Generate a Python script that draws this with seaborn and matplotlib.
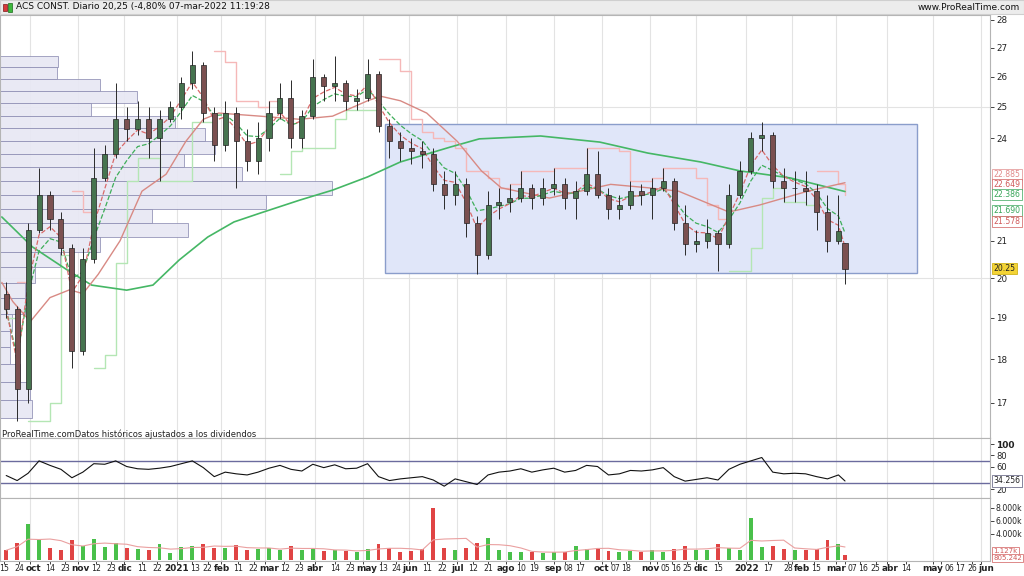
import numpy as np
import pandas as pd
import matplotlib
matplotlib.use("Agg")
import matplotlib.pyplot as plt
import seaborn as sns
from matplotlib.patches import Rectangle
from matplotlib.ticker import FixedLocator, FixedFormatter, NullLocator

sns.set_theme(style="white")
plt.rcParams['font.family'] = ['DejaVu Sans']

# ------------------------------------------------------------------ data
week_start = "2020-09-14"   # weekly candles, Monday of each week
opens = [19.6, 19.2, 17.3, 21.3, 22.3, 21.6, 20.8, 18.2, 20.5, 22.8,
         23.5, 24.6, 24.3, 24.6, 24.0, 24.6, 25.0, 25.8, 26.4, 24.8,
         23.8, 24.8, 23.9, 23.3, 24.0, 24.8, 25.3, 24.0, 24.7, 26.0,
         25.7, 25.8, 25.2, 25.3, 26.1, 24.4, 23.9, 23.7, 23.6, 23.5,
         22.6, 22.3, 22.6, 21.5, 20.6, 22.0, 22.1, 22.2, 22.5, 22.2,
         22.5, 22.6, 22.2, 22.4, 22.9, 22.3, 21.9, 22.0, 22.4, 22.3,
         22.5, 22.7, 21.5, 20.9, 21.0, 21.2, 20.9, 22.3, 23.0, 24.0,
         24.1, 22.7, 22.5, 22.5, 22.4, 21.8, 21.0, 20.95]
highs = [19.9, 19.3, 21.5, 23.1, 22.4, 21.8, 20.9, 20.8, 23.7, 23.8,
         25.8, 25.0, 25.2, 25.0, 24.9, 25.2, 26.0, 26.9, 26.5, 25.0,
         25.2, 25.0, 24.3, 24.5, 25.2, 25.8, 25.9, 24.9, 26.6, 26.1,
         26.7, 25.9, 25.6, 26.6, 26.2, 24.6, 24.2, 24.0, 23.9, 23.7,
         23.0, 23.0, 22.8, 21.7, 22.4, 22.5, 22.6, 23.0, 22.6, 22.8,
         23.1, 22.8, 22.7, 23.7, 23.6, 22.5, 22.3, 22.7, 22.6, 22.8,
         23.1, 22.8, 22.0, 21.3, 21.6, 21.3, 22.6, 23.3, 24.2, 24.5,
         24.2, 23.1, 23.0, 23.0, 22.6, 22.3, 22.3, 20.95]
lows = [19.0, 16.6, 17.0, 21.2, 21.3, 20.6, 17.8, 18.1, 20.4, 22.7,
        23.4, 23.9, 24.1, 23.4, 22.7, 24.5, 24.6, 25.6, 24.5, 23.3,
        23.6, 22.5, 23.0, 22.9, 23.6, 24.6, 23.7, 23.7, 24.6, 25.2,
        25.2, 24.9, 24.9, 25.2, 24.2, 23.4, 23.3, 23.2, 23.1, 22.4,
        21.9, 22.0, 21.1, 20.1, 20.5, 21.6, 21.8, 22.1, 21.9, 22.0,
        22.3, 21.9, 21.6, 22.3, 22.2, 21.6, 21.6, 21.9, 22.0, 21.6,
        22.4, 21.3, 20.6, 20.7, 20.8, 20.2, 20.8, 22.2, 22.9, 23.6,
        22.5, 22.1, 22.1, 22.0, 21.3, 20.7, 20.9, 19.85]
closes = [19.2, 17.3, 21.3, 22.3, 21.6, 20.8, 18.2, 20.5, 22.8, 23.5,
          24.6, 24.3, 24.6, 24.0, 24.6, 25.0, 25.8, 26.4, 24.8, 23.8,
          24.8, 23.9, 23.3, 24.0, 24.8, 25.3, 24.0, 24.7, 26.0, 25.7,
          25.8, 25.2, 25.3, 26.1, 24.4, 23.9, 23.7, 23.6, 23.5, 22.6,
          22.3, 22.6, 21.5, 20.6, 22.0, 22.1, 22.2, 22.5, 22.2, 22.5,
          22.6, 22.2, 22.4, 22.9, 22.3, 21.9, 22.0, 22.4, 22.3, 22.5,
          22.7, 21.5, 20.9, 21.0, 21.2, 20.9, 22.3, 23.0, 24.0, 24.1,
          22.7, 22.5, 22.5, 22.4, 21.8, 21.0, 21.27, 20.25]
volumes_k = [1500, 2600, 5500, 3000, 1800, 1600, 3000, 2200, 3200, 2000,
             2600, 1900, 1700, 1500, 2400, 1100, 2000, 2200, 2500, 1900,
             1800, 2300, 1600, 1700, 1800, 1600, 2200, 1500, 1800, 1400,
             1500, 1400, 1300, 1700, 2400, 1800, 1300, 1400, 1700, 8000,
             1800, 1600, 1900, 2600, 3400, 1500, 1300, 1200, 1300, 1100,
             1200, 1300, 2200, 1700, 1900, 1400, 1300, 1400, 1300, 1600,
             1300, 1700, 2100, 1600, 1500, 2400, 1800, 1500, 6400, 2000,
             2100, 1700, 1600, 1500, 1700, 3000, 2500, 805]
rsi_vals = [44, 35, 48, 70, 62, 55, 40, 50, 65, 64,
            70, 60, 56, 55, 57, 60, 65, 70, 58, 42,
            50, 47, 45, 50, 57, 62, 55, 52, 64, 58,
            63, 56, 57, 65, 42, 35, 38, 40, 42, 36,
            25, 38, 33, 28, 45, 50, 52, 56, 50, 54,
            57, 50, 53, 62, 60, 45, 47, 53, 52, 54,
            58, 42, 34, 37, 40, 36, 55, 64, 70, 76,
            50, 47, 48, 47, 42, 38, 45, 34.256]

ma50_dates = ["2020-09-14", "2020-09-21", "2020-10-01", "2020-10-14", "2020-10-27",
              "2020-11-04", "2020-11-13", "2020-11-27", "2020-12-11", "2020-12-28",
              "2021-01-08", "2021-01-20", "2021-01-29", "2021-02-25", "2021-03-23",
              "2021-04-13", "2021-05-05", "2021-05-13", "2021-05-26", "2021-06-11",
              "2021-07-01", "2021-07-16", "2021-07-29", "2021-08-30", "2021-10-07",
              "2021-11-01", "2021-11-19", "2021-12-22", "2022-01-11", "2022-02-10",
              "2022-03-07"]
ma50_vals = [19.89, 19.4, 18.9, 19.5, 19.7, 19.6, 20.1, 21.0, 22.4, 22.9,
             23.9, 24.6, 24.8, 24.7, 24.6, 24.7, 25.2, 25.35, 25.2, 24.8,
             23.9, 23.0, 22.5, 22.2, 22.6, 22.5, 22.4, 21.8, 22.0, 22.4,
             22.649]
ma200_dates = ["2020-09-14", "2020-10-02", "2020-10-26", "2020-11-10", "2020-12-02",
               "2020-12-18", "2021-01-05", "2021-01-22", "2021-02-09", "2021-02-25",
               "2021-03-23", "2021-04-13", "2021-05-05", "2021-05-26", "2021-06-28",
               "2021-07-15", "2021-08-24", "2021-09-30", "2021-11-01", "2021-12-03",
               "2021-12-29", "2022-01-31", "2022-03-07"]
ma200_vals = [21.66, 20.83, 20.21, 19.82, 19.69, 19.82, 20.48, 21.10, 21.52, 21.77,
              22.14, 22.43, 22.82, 23.27, 23.73, 23.98, 24.07, 23.88, 23.54, 23.27,
              23.0, 22.79, 22.39]

# volume-at-price profile (top bin first)
profile_vols = [58, 57, 100, 137, 91, 175, 205, 215, 184, 242, 332, 266, 152,
                188, 100, 60, 35, 25, 25, 12, 10, 10, 20, 30, 32]
profile_top = 26.72
profile_step = 0.402

range_box_dates = ["2021-05-17", "2022-04-21"]
range_box_prices = [20.13, 24.45]

price_ticks = [17, 18, 19, 20, 21, 24, 25, 26, 27, 28]
side_texts = ["22.885", "22.649", "22.386", "21.690", "21.578"]
side_values = [22.885, 22.649, 22.386, 21.690, 21.578]
last_price_text = "20.25"
last_price = 20.25

tick_dates = ["2020-09-15", "2020-09-24", "2020-10-01", "2020-10-14", "2020-10-23",
              "2020-11-02", "2020-11-12", "2020-11-23", "2020-12-01", "2020-12-11",
              "2020-12-22", "2021-01-04", "2021-01-13", "2021-01-22", "2021-02-01",
              "2021-02-11", "2021-02-22", "2021-03-01", "2021-03-12", "2021-03-23",
              "2021-04-01", "2021-04-14", "2021-04-23", "2021-05-03", "2021-05-13",
              "2021-05-24", "2021-06-01", "2021-06-11", "2021-06-22", "2021-07-01",
              "2021-07-12", "2021-07-21", "2021-08-02", "2021-08-10", "2021-08-19",
              "2021-09-01", "2021-09-08", "2021-09-17", "2021-10-01", "2021-10-07",
              "2021-10-18", "2021-11-02", "2021-11-05", "2021-11-16", "2021-11-25",
              "2021-12-01", "2021-12-15", "2022-01-03", "2022-01-17", "2022-01-28",
              "2022-02-01", "2022-02-15", "2022-03-01", "2022-03-07", "2022-03-16",
              "2022-03-25", "2022-04-01", "2022-04-14", "2022-05-02", "2022-05-06",
              "2022-05-17", "2022-05-26", "2022-06-01"]
tick_texts = ["15", "24", "oct", "14", "23", "nov", "12", "23", "dic", "11",
              "22", "2021", "13", "22", "feb", "11", "22", "mar", "12", "23",
              "abr", "14", "23", "may", "13", "24", "jun", "11", "22", "jul",
              "12", "21", "ago", "10", "19", "sep", "08", "17", "oct", "07",
              "18", "nov", "05", "16", "25", "dic", "15", "2022", "17", "28",
              "feb", "15", "mar", "07", "16", "25", "abr", "14", "may", "06",
              "17", "26", "jun"]

title_text = "ACS CONST. Diario 20,25 (-4,80% 07-mar-2022 11:19:28"
site_text = "www.ProRealTime.com"
footer_text = "ProRealTime.comDatos históricos ajustados a los dividendos"

rsi_ticks = [20, 60, 80, 100]
rsi_last_text = "34.256"
vol_ticks = [4000, 6000, 8000]
vol_tick_texts = ["4.000k", "6.000k", "8.000k"]
vol_side = [(1127, "1.127k"), (805.242, "805.242")]

# ------------------------------------------------------------------ helpers
cal = pd.bdate_range("2020-09-14", "2022-07-29")


def bpos(dates):
    return cal.searchsorted(pd.to_datetime(dates)).astype(float)


o = np.array(opens); h = np.array(highs); l = np.array(lows); c = np.array(closes)
weeks = pd.date_range(week_start, periods=len(c), freq="W-MON")
last_day = bpos(["2022-03-07"])[0]
xw = np.minimum(bpos(weeks) + 2, last_day)
up = c >= o

XL, XR = -0.83, 451.2

W, H = 1024, 576
DPI = 100
fig = plt.figure(figsize=(W / DPI, H / DPI), dpi=DPI)
fig.patch.set_facecolor("white")


def rect(x0, y0, x1, y1):
    return [x0 / W, 1 - y1 / H, (x1 - x0) / W, (y1 - y0) / H]


ax_p = fig.add_axes(rect(0, 15, 990, 438))
ax_r = fig.add_axes(rect(0, 438, 990, 498))
ax_v = fig.add_axes(rect(0, 498, 990, 561))

tick_pos = bpos(tick_dates)
is_month = [(not t.isdigit()) or len(t) == 4 for t in tick_texts]
month_pos = [p for p, m in zip(tick_pos, is_month) if m]

for ax in (ax_p, ax_r, ax_v):
    ax.set_xlim(XL, XR)
    ax.set_facecolor("white")
    for sp in ax.spines.values():
        sp.set_color("#b4b4b4")
        sp.set_linewidth(0.8)
    for mp in month_pos:
        ax.axvline(mp, color="#e3e3e3", lw=0.8, zorder=0)
    ax.yaxis.tick_right()
    ax.tick_params(axis="y", right=True, left=False, labelsize=6.3, length=3,
                   pad=1.5, colors="#222222", width=0.6)

# ------------------------------------------------------------------ price panel
ax_p.set_yscale("log")
ax_p.set_ylim(16.24, 28.18)
for lvl in (20, 25):
    ax_p.axhline(lvl, color="#e3e3e3", lw=0.8, zorder=0)

bx0, bx1 = bpos(range_box_dates)
ax_p.add_patch(Rectangle((bx0, range_box_prices[0]), bx1 - bx0,
                         range_box_prices[1] - range_box_prices[0],
                         facecolor="#e0e6f9", edgecolor="#8a9dcb", lw=1.0, zorder=1))

pv = np.array(profile_vols, dtype=float)
tops = profile_top - profile_step * np.arange(len(pv))
pw = pv / pv.max() * 0.335 * (XR - XL)
ax_p.barh(tops - profile_step, pw, height=profile_step, left=XL, align="edge",
          color="#e8e8f4", edgecolor="#8e8eb4", lw=0.6, alpha=0.92, zorder=1.5)

# trailing breakout bands (step lines)
up_band = pd.Series(h).rolling(3, min_periods=1).max().values
dn_band = pd.Series(l).rolling(3, min_periods=1).min().values
state = np.ones(len(c))
s = 1
for i in range(len(c)):
    if i > 0:
        if c[i] < dn_band[i - 1]:
            s = -1
        elif c[i] > up_band[i - 1]:
            s = 1
    state[i] = s
ax_p.plot(xw, np.where(state > 0, dn_band, np.nan), drawstyle="steps-post",
          color="#b4e6b4", lw=1.0, zorder=2.5)
ax_p.plot(xw, np.where(state < 0, up_band, np.nan), drawstyle="steps-post",
          color="#f5b8b8", lw=1.0, zorder=2.5)

sns.lineplot(x=bpos(ma200_dates), y=ma200_vals, ax=ax_p, color="#45b765", lw=1.2, zorder=3)
sns.lineplot(x=bpos(ma50_dates), y=ma50_vals, ax=ax_p, color="#d88a84", lw=1.0, zorder=3)
ema_fast = pd.Series(c).ewm(span=3).mean().values
ema_slow = pd.Series(c).ewm(span=5).mean().values
sns.lineplot(x=xw, y=ema_slow, ax=ax_p, color="#3fae5a", lw=0.9, linestyle="--", zorder=3)
sns.lineplot(x=xw, y=ema_fast, ax=ax_p, color="#d86a6a", lw=0.9, linestyle="--", zorder=3)

ax_p.vlines(xw, l, h, color="#2a2a2a", lw=0.7, zorder=4)
ax_p.bar(xw, np.abs(c - o), bottom=np.minimum(o, c), width=2.3,
         color=np.where(up, "#46744f", "#7b5050"), edgecolor="#222222", lw=0.5, zorder=5)

ax_p.yaxis.set_major_locator(FixedLocator(price_ticks))
ax_p.yaxis.set_major_formatter(FixedFormatter([str(t) for t in price_ticks]))
ax_p.yaxis.set_minor_locator(NullLocator())
ax_p.tick_params(axis="x", bottom=False, labelbottom=False)
ax_p.set_xlabel(""); ax_p.set_ylabel("")


def side_label(ax, val, txt, color, dy, fc="white", ec=None, tcolor=None, size=5.6):
    ax.annotate(txt, xy=(1, val), xycoords=("axes fraction", "data"),
                xytext=(2.5, dy), textcoords="offset points", fontsize=size,
                color=tcolor or color, va="center", ha="left",
                bbox=dict(boxstyle="square,pad=0.15", fc=fc, ec=ec or color, lw=0.5),
                annotation_clip=False, zorder=10)


side_colors = ["#e08a8a", "#d05a5a", "#3aa55a", "#3aa55a", "#d05a5a"]
side_dy = [0, -1.5, -2, 4, -1]
for v, t, col, dy in zip(side_values, side_texts, side_colors, side_dy):
    side_label(ax_p, v, t, col, dy)
side_label(ax_p, last_price, last_price_text, "#222222", 0, fc="#f3d335", ec="#c8a800")

# ------------------------------------------------------------------ RSI panel
ax_r.set_ylim(4, 110.7)
ax_r.axhline(70, color="#6b6b9e", lw=1.0, zorder=2)
ax_r.axhline(30, color="#6b6b9e", lw=1.0, zorder=2)
sns.lineplot(x=xw, y=rsi_vals, ax=ax_r, color="#111111", lw=0.8, zorder=3)
ax_r.set_yticks(rsi_ticks)
ax_r.set_yticklabels([str(t) for t in rsi_ticks])
ax_r.tick_params(axis="y", labelsize=6)
for lbl in ax_r.get_yticklabels():
    if lbl.get_text() == "100":
        lbl.set_fontweight("bold")
        lbl.set_fontsize(6.5)
ax_r.tick_params(axis="x", bottom=False, labelbottom=False)
ax_r.set_xlabel(""); ax_r.set_ylabel("")
side_label(ax_r, rsi_vals[-1], rsi_last_text, "#555577", 0, tcolor="#222222")

# ------------------------------------------------------------------ volume panel
ax_v.set_ylim(-154, 9538)
ax_v.bar(xw, volumes_k, width=1.8, color=np.where(up, "#49c04a", "#e04444"), lw=0, zorder=3)
vol_avg = pd.Series(volumes_k).rolling(4, min_periods=1).mean().values
ax_v.plot(xw, vol_avg, color="#eaa0a0", lw=0.8, zorder=3.5)
ax_v.set_yticks(vol_ticks)
ax_v.set_yticklabels(vol_tick_texts)
ax_v.tick_params(axis="y", labelsize=5.6, pad=1)
for v, t in vol_side:
    side_label(ax_v, v, t, "#d05a5a", 1.5 if v > 1000 else -2, size=5.0)
ax_v.set_xticks(tick_pos)
ax_v.tick_params(axis="x", bottom=True, length=2, labelbottom=False,
                 colors="#222222", width=0.6)
ax_v.set_xlabel(""); ax_v.set_ylabel("")

# date labels drawn as texts so that close neighbours can sit side by side
date_anns = []
for p, t, m in zip(tick_pos, tick_texts, is_month):
    a = ax_v.annotate(t, xy=(p, 0), xycoords=("data", "axes fraction"),
                      xytext=(0, -2.5), textcoords="offset points",
                      ha="center", va="top", fontsize=6.4 if m else 5.6,
                      fontweight="bold" if m else "normal", color="#222222",
                      annotation_clip=False)
    date_anns.append(a)

# ------------------------------------------------------------------ header / footer
fig.patches.append(Rectangle((0, 1 - 14 / H), 1, 14 / H, transform=fig.transFigure,
                             facecolor="#ececec", edgecolor="#cfcfcf", lw=0.8, zorder=0))
fig.patches.append(Rectangle((3 / W, 1 - 11 / H), 4 / W, 7 / H, transform=fig.transFigure,
                             facecolor="#d83a3a", edgecolor="#7a1a1a", lw=0.5))
fig.patches.append(Rectangle((8 / W, 1 - 12 / H), 4 / W, 9 / H, transform=fig.transFigure,
                             facecolor="#3cb83c", edgecolor="#1a6a1a", lw=0.5))
fig.text(16 / W, 1 - 7 / H, title_text, fontsize=6.5, va="center", ha="left", color="#111111")
fig.text(1020 / W, 1 - 7 / H, site_text, fontsize=6.5, va="center", ha="right", color="#111111")
fig.text(2 / W, 1 - 434 / H, footer_text, fontsize=6, va="center", ha="left", color="#222222")

# push a date label right when it would run into the previous one
fig.canvas.draw()
renderer = fig.canvas.get_renderer()
prev_right = -1e9
for a in date_anns:
    bb = a.get_window_extent(renderer)
    shift = max(0.0, prev_right + 1.0 - bb.x0)
    if shift > 0:
        a.xyann = (a.xyann[0] + shift * 72.0 / DPI, a.xyann[1])
    prev_right = bb.x1 + shift

fig.savefig("out.png", dpi=DPI)
